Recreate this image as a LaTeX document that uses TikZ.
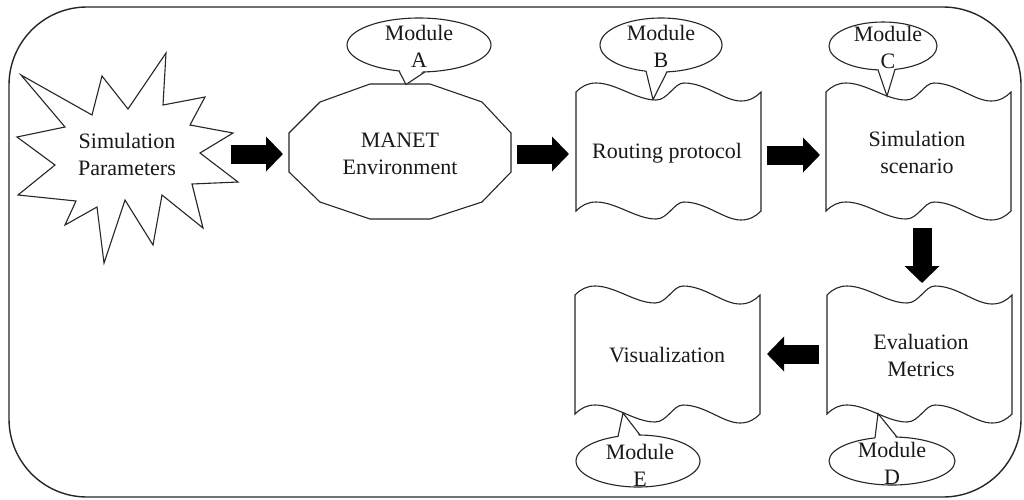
\documentclass[tikz,border=0pt]{standalone}
\usepackage{fontspec}
\setmainfont{Liberation Serif}
\usetikzlibrary{arrows.meta,shapes.geometric,calc}
\begin{document}
\begin{tikzpicture}[x=1pt,y=-1pt,
  shapeline/.style={draw=black!85, line width=1.1pt, line join=miter},
  lbl/.style={font=\fontsize{22}{27}\selectfont, align=center, inner sep=0pt, text=black!90},
  callout/.style={ellipse, draw=black!85, line width=1.1pt, fill=white, inner sep=0pt},
  blockarrow/.style={line width=19pt, -{Triangle[width=34pt,length=17pt]}},
  wavy/.pic={\draw[shapeline, fill=white] (0,0) .. controls (6,-6) and (12,-9) .. (20,-9)
     .. controls (40,-9) and (60,8) .. (80,8) .. controls (92,8) and (98,-9) .. (108,-9)
     .. controls (130,-9) and (148,9) .. (165,9) .. controls (174,9) and (180,5) .. (185,0)
     -- (185,119) .. controls (180,124) and (174,128) .. (165,128)
     .. controls (148,128) and (130,110) .. (108,110) .. controls (98,110) and (92,127) .. (80,127)
     .. controls (60,127) and (40,110) .. (20,110) .. controls (12,110) and (6,113) .. (0,119) -- cycle;}
]
\useasboundingbox (0,0) rectangle (1024,499);
\fill[white] (0,0) rectangle (1024,499);
% frame
\draw[draw=black!85, line width=1.4pt, rounded corners=78pt] (9,7) rectangle (1021,497);

% starburst
\draw[shapeline, fill=white] (21,75) -- (92,115) -- (102,76) -- (128,109) -- (166,53) -- (163,105)
  -- (205,97) -- (190,125) -- (233,133) -- (200,153) -- (238,182) -- (192,184) -- (203,228)
  -- (162,195) -- (153,245) -- (125,200) -- (104,263) -- (97,207) -- (65,225) -- (76,201)
  -- (18,195) -- (55,165) -- (17,137) -- (65,127) -- cycle;
\node[lbl] (star) at (127,154) {Simulation\\Parameters};

% MANET polygon
\draw[shapeline, fill=white] (370,84) -- (430,84) -- (482,102) -- (511,133) -- (511,172)
  -- (482,202) -- (430,219) -- (370,219) -- (320,202) -- (289,172) -- (289,133) -- (320,102) -- cycle;
\node[lbl] (manet) at (400,154) {MANET\\Environment};

% wavy boxes
\pic at (576,92) {wavy};
\pic at (826,92) {wavy};
\pic at (827,295) {wavy};
\pic at (575,295) {wavy};
\node[lbl] (routing) at (667,153) {Routing protocol};
\node[lbl] (scenario) at (917,152) {Simulation\\scenario};
\node[lbl] (metrics) at (921,355) {Evaluation\\Metrics};
\node[lbl] (visual) at (667,355) {Visualization};

% callouts
\node[callout, minimum width=144pt, minimum height=54pt] (ea) at (419,45) {};
\node[callout, minimum width=122pt, minimum height=54pt] (eb) at (661,45) {};
\node[callout, minimum width=108pt, minimum height=48pt] (ec) at (883,46) {};
\node[callout, minimum width=126pt, minimum height=48pt] (ed) at (892,461) {};
\node[callout, minimum width=124pt, minimum height=52pt] (ee) at (638,461) {};

\coordinate (ta) at (406,84.5);
\coordinate (tb) at (653,99.5);
\coordinate (tc) at (887,96);
\coordinate (td) at (878,413.5);
\coordinate (te) at (623,413);

\fill[white] (399,68.5) -- (ta) -- (425,69.5) -- cycle;
\draw[shapeline] (399,70.9) -- (ta) -- (425,71.9);
\fill[white] (646,68.8) -- (tb) -- (667,69.5) -- cycle;
\draw[shapeline] (646,71.2) -- (tb) -- (667,71.9);
\fill[white] (878,67.5) -- (tc) -- (895,67) -- cycle;
\draw[shapeline] (878,69.9) -- (tc) -- (895,69.4);
\fill[white] (875,440.3) -- (td) -- (897,439.5) -- cycle;
\draw[shapeline] (875,437.9) -- (td) -- (897,437.1);
\fill[white] (618,438.8) -- (te) -- (640,437.4) -- cycle;
\draw[shapeline] (618,436.4) -- (te) -- (640,435);

\node[lbl] (ma) at (419,46) {Module\\A};
\node[lbl] (mb) at (661,46) {Module\\B};
\node[lbl] (mc) at (888,47) {Module\\C};
\node[lbl] (md) at (892,463) {Module\\D};
\node[lbl] (me) at (640,465) {Module\\E};

% block arrows
\coordinate (a1s) at (231,154); \coordinate (a1e) at (283,154);
\coordinate (a2s) at (517,154); \coordinate (a2e) at (569,154);
\coordinate (a3s) at (767,155); \coordinate (a3e) at (820,155);
\coordinate (a4s) at (922,228); \coordinate (a4e) at (922,283);
\coordinate (a5s) at (819,354); \coordinate (a5e) at (767,354);
\draw[blockarrow] (a1s) -- (a1e);
\draw[blockarrow] (a2s) -- (a2e);
\draw[blockarrow] (a3s) -- (a3e);
\draw[blockarrow] (a4s) -- (a4e);
\draw[blockarrow] (a5s) -- (a5e);
\end{tikzpicture}
\end{document}
